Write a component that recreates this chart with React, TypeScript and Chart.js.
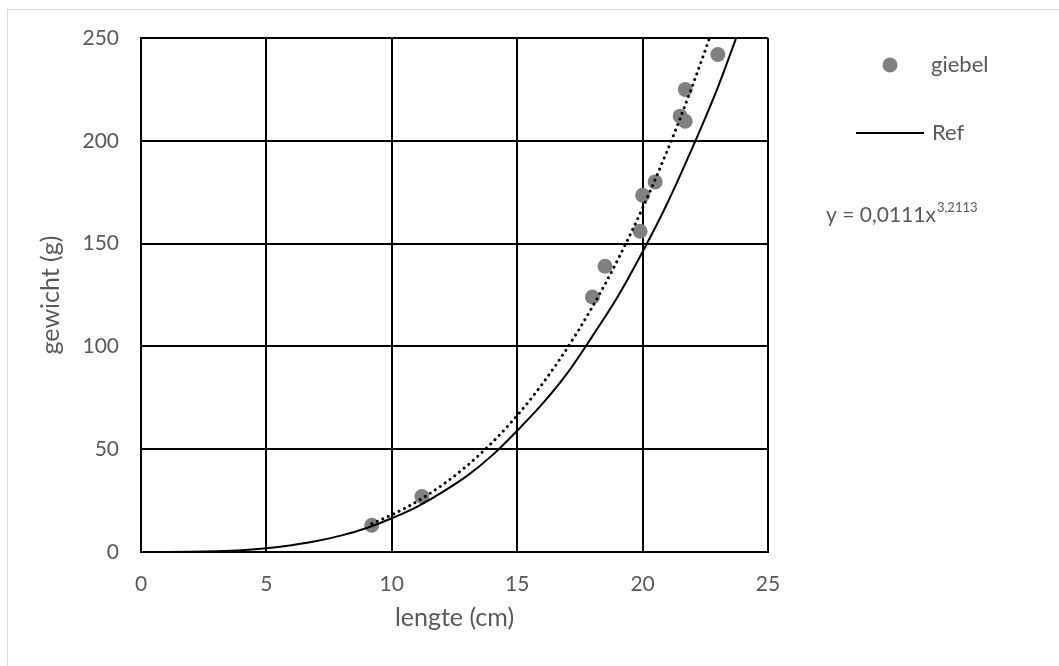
import React, { useEffect, useRef } from "react";
import { Chart, registerables } from "chart.js";

Chart.register(...registerables);

// Measured fish: length (cm) and weight (g)
const lengths = [9.2, 11.2, 18.0, 18.5, 19.9, 20.0, 20.5, 21.5, 21.7, 21.7, 23.0];
const weights = [13, 27, 124, 139, 156, 173.5, 180, 212, 209.5, 225, 242];

// Reference length-weight curve
const refLengths = [0, 1, 2, 3, 4, 5, 6, 7, 8, 9, 10, 11, 12, 13, 14, 15, 16, 17, 18, 19, 20, 21, 22, 23, 24];
const refWeights = [0, 0, 0.1, 0.4, 0.9, 1.8, 3.3, 5.3, 8.1, 11.7, 16.4, 22, 29, 37, 47, 59, 72, 87, 105, 124, 146, 170, 197, 226, 259];

// Power trendline y = a * x^b, as shown in the equation label
const trendA = 0.0111;
const trendB = 3.2113;
const trendLabel = "y = 0,0111x";
const trendExpLabel = "3,2113";
const trendLengths = [9.2, 9.5, 10, 10.5, 11, 11.5, 12, 12.5, 13, 13.5, 14, 14.5, 15, 15.5, 16, 16.5, 17, 17.5, 18, 18.5, 19, 19.5, 20, 20.5, 21, 21.5, 22, 22.5, 23];

const xTicks = [0, 5, 10, 15, 20, 25];
const yTicks = [0, 50, 100, 150, 200, 250];

const seriesNames = ["giebel", "Ref"];
const xTitle = "lengte (cm)";
const yTitle = "gewicht (g)";

const FONT = "Lato, 'Open Sans', sans-serif";
const TEXT = "#595959";
const POINT = "#808080";

const overlayPlugin = {
  id: "overlayText",
  afterDraw(chart: any) {
    const ctx = chart.ctx as CanvasRenderingContext2D;
    const area = chart.chartArea;
    ctx.save();
    ctx.fillStyle = TEXT;

    // axis titles
    ctx.font = `25px ${FONT}`;
    ctx.textAlign = "center";
    ctx.textBaseline = "middle";
    ctx.fillText(xTitle, (area.left + area.right) / 2, 618);
    ctx.save();
    ctx.translate(51, (area.top + area.bottom) / 2);
    ctx.rotate(-Math.PI / 2);
    ctx.fillText(yTitle, 0, 0);
    ctx.restore();

    // legend
    ctx.textAlign = "left";
    ctx.font = `22px ${FONT}`;
    ctx.beginPath();
    ctx.arc(890, 65, 7.5, 0, Math.PI * 2);
    ctx.fillStyle = POINT;
    ctx.fill();
    ctx.fillStyle = TEXT;
    ctx.fillText(seriesNames[0], 931, 65);

    ctx.beginPath();
    ctx.moveTo(856, 133);
    ctx.lineTo(924, 133);
    ctx.strokeStyle = "#000";
    ctx.lineWidth = 2;
    ctx.stroke();
    ctx.fillText(seriesNames[1], 932, 133);

    // trendline equation
    ctx.font = `21px ${FONT}`;
    ctx.fillText(trendLabel, 826, 215);
    const w = ctx.measureText(trendLabel).width;
    ctx.font = `13px ${FONT}`;
    ctx.fillText(trendExpLabel, 826 + w + 1, 208);
    ctx.restore();
  },
};

export default function App() {
  const canvasRef = useRef<HTMLCanvasElement | null>(null);

  useEffect(() => {
    if (!canvasRef.current) return;
    const chart = new Chart(canvasRef.current, {
      type: "scatter",
      data: {
        datasets: [
          {
            label: "trend",
            data: trendLengths.map((x) => ({ x, y: trendA * Math.pow(x, trendB) })),
            showLine: true,
            borderColor: "#000",
            borderWidth: 3,
            borderDash: [0.01, 6],
            borderCapStyle: "round",
            pointRadius: 0,
            order: 0,
          },
          {
            label: seriesNames[1],
            data: refLengths.map((x, i) => ({ x, y: refWeights[i] })),
            showLine: true,
            borderColor: "#000",
            borderWidth: 2,
            cubicInterpolationMode: "monotone",
            pointRadius: 0,
            order: 1,
          },
          {
            label: seriesNames[0],
            data: lengths.map((x, i) => ({ x, y: weights[i] })),
            backgroundColor: POINT,
            borderColor: POINT,
            pointRadius: 7.5,
            borderWidth: 0,
            order: 2,
          },
        ],
      } as any,
      options: {
        responsive: false,
        animation: false,
        devicePixelRatio: 1,
        layout: { padding: { left: 0, top: 38, right: 291, bottom: 0 } },
        plugins: { legend: { display: false }, tooltip: { enabled: false } },
        scales: {
          x: {
            type: "linear",
            min: 0,
            max: 25,
            afterFit: (s: any) => {
              s.height = 114;
            },
            afterBuildTicks: (s: any) => {
              s.ticks = xTicks.map((v) => ({ value: v }));
            },
            grid: { color: "#000", lineWidth: 2, drawTicks: false },
            border: { color: "#000", width: 2 },
            ticks: { color: TEXT, font: { family: FONT, size: 21 }, padding: 20 },
          },
          y: {
            type: "linear",
            min: 0,
            max: 250,
            afterFit: (s: any) => {
              s.width = 141;
            },
            afterBuildTicks: (s: any) => {
              s.ticks = yTicks.map((v) => ({ value: v }));
            },
            grid: { color: "#000", lineWidth: 2, drawTicks: false },
            border: { color: "#000", width: 2 },
            ticks: { color: TEXT, font: { family: FONT, size: 21 }, padding: 22 },
          },
        },
      } as any,
      plugins: [overlayPlugin],
    });
    return () => chart.destroy();
  }, []);

  return (
    <div style={{ position: "fixed", left: 0, top: 0, width: 1059, height: 666, background: "#fff", overflow: "hidden" }}>
      <div
        style={{
          position: "absolute",
          left: 7,
          top: 9,
          width: 1100,
          height: 700,
          border: "1px solid #d9d9d9",
        }}
      />
      <canvas ref={canvasRef} width={1059} height={666} style={{ position: "absolute", left: 0, top: 0 }} />
    </div>
  );
}
